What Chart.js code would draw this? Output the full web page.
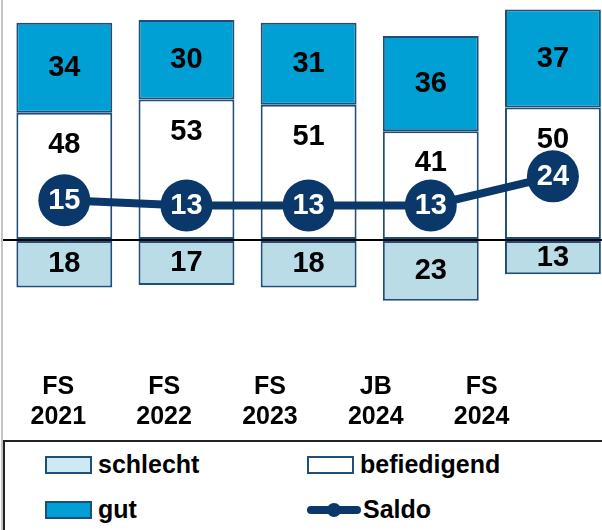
<!DOCTYPE html>
<html>
<head>
<meta charset="utf-8">
<script src="https://cdn.jsdelivr.net/npm/chart.js@4/dist/chart.umd.min.js"></script>
<style>
  html, body { margin: 0; padding: 0; background: #fff; overflow: hidden; }
  body { width: 602px; height: 530px; position: relative; font-family: "Liberation Sans", Arial, sans-serif; }
  #edge { position: absolute; left: 1px; top: 0; width: 2px; height: 530px; background: #c4c4c4; }
  #wrap { position: absolute; left: -2px; top: 0; width: 616px; height: 440px; }
  #legend {
    position: absolute; left: 3px; top: 440px; width: 640px; height: 100px;
    border: 2px solid #222; box-sizing: border-box;
    display: grid; grid-template-columns: 262px 300px; grid-auto-rows: 45px;
    padding-left: 40px; padding-top: 0;
  }
  .item { display: flex; align-items: center; font-weight: bold; font-size: 25px; color: #000; }
  .box { width: 43px; height: 14px; border: 2px solid #1f4e79; margin-right: 6px; }
  .ln { position: relative; width: 54px; height: 14px; margin-right: 2px; }
  .ln .bar { position: absolute; left: 0; top: 3px; width: 54px; height: 8px; border-radius: 4px; }
  .ln .dot { position: absolute; left: 20px; top: 0; width: 14px; height: 14px; border-radius: 7px; }
</style>
</head>
<body>
<div id="edge"></div>
<div id="wrap"><canvas id="myChart" width="616" height="440"></canvas></div>
<div id="legend"></div>
<script>
// categories (two-line labels)
const xLabels = [['FS', '2021'], ['FS', '2022'], ['FS', '2023'], ['JB', '2024'], ['FS', '2024']];
// series values
const schlecht = [18, 17, 18, 23, 13];
const befriedigend = [48, 53, 51, 41, 50];
const gut = [34, 30, 31, 36, 37];
const saldo = [15, 13, 13, 13, 24];

const navy = '#1f4e79';
const lineCol = '#0a386b';

const valueLabels = {
  id: 'valueLabels',
  afterDatasetsDraw(chart) {
    const ctx = chart.ctx;
    ctx.save();
    ctx.textAlign = 'center';
    ctx.textBaseline = 'middle';
    ctx.font = 'bold 29px "Liberation Sans", Arial';
    chart.data.datasets.forEach((ds, i) => {
      const meta = chart.getDatasetMeta(i);
      meta.data.forEach((el, j) => {
        let y;
        if (ds.type === 'line') {
          ctx.fillStyle = '#fff';
          y = el.y + 1;
        } else if (ds.key === 'bef') {
          ctx.fillStyle = '#000';
          y = el.y + 32;
        } else {
          ctx.fillStyle = '#000';
          y = (el.y + el.base) / 2;
        }
        ctx.fillText(String(ds.shown[j]), el.x, y);
      });
    });
    ctx.restore();
  }
};

const chart = new Chart(document.getElementById('myChart'), {
  data: {
    labels: xLabels.map(l => l.join(' ')),
    datasets: [
      {
        type: 'line', label: 'Saldo', data: saldo, shown: saldo,
        borderColor: lineCol, backgroundColor: lineCol, borderWidth: 8,
        pointRadius: 26, pointHoverRadius: 26, pointBackgroundColor: lineCol,
        pointBorderWidth: 0, tension: 0, stack: 'saldo', order: 0, clip: false
      },
      {
        type: 'bar', label: 'schlecht', key: 'sch', data: schlecht.map(v => -v), shown: schlecht,
        backgroundColor: '#badce6', borderColor: navy, borderWidth: 2, borderSkipped: false,
        stack: 'bars', order: 1, legendColor: '#cde9f3'
      },
      {
        type: 'bar', label: 'befiedigend', key: 'bef', data: befriedigend, shown: befriedigend,
        backgroundColor: '#ffffff', borderColor: navy, borderWidth: 2, borderSkipped: false,
        stack: 'bars', order: 1
      },
      {
        type: 'bar', label: 'gut', key: 'gut', data: gut, shown: gut,
        backgroundColor: '#009fd4', borderColor: navy, borderWidth: 2, borderSkipped: false,
        stack: 'bars', order: 1
      }
    ]
  },
  options: {
    responsive: false,
    animation: false,
    layout: { autoPadding: false, padding: { top: 0, bottom: 10, left: 0, right: 0 } },
    datasets: { bar: { categoryPercentage: 1, barPercentage: 0.785 } },
    plugins: { legend: { display: false }, tooltip: { enabled: false } },
    scales: {
      x: { display: false, stacked: true },
      x2: {
        type: 'linear', position: 'bottom', min: -0.52, max: 5.251,
        afterBuildTicks: s => { s.ticks = xLabels.map((l, i) => ({ value: i })); },
        afterFit: s => { s.height = 90; },
        ticks: {
          callback: v => xLabels[v],
          padding: 32, maxRotation: 0, autoSkip: false,
          color: '#000', font: { family: '"Liberation Sans", Arial', size: 25, weight: 'bold', lineHeight: 1.2 }
        },
        grid: { display: false, drawTicks: false }, border: { display: false }
      },
      y: {
        stacked: true, min: -37.8, max: 90.6,
        afterFit: s => { s.width = 0; },
        ticks: { display: false, stepSize: 10 },
        grid: {
          z: 1, drawTicks: false, lineWidth: 2,
          color: c => c.tick && c.tick.value === 0 ? '#000' : 'rgba(0,0,0,0)'
        },
        border: { display: false }
      }
    }
  },
  plugins: [valueLabels]
});

// legend built from the datasets, order: schlecht, befiedigend, gut, Saldo
const legend = document.getElementById('legend');
const order = [1, 2, 3, 0];
order.forEach(i => {
  const ds = chart.data.datasets[i];
  const item = document.createElement('div');
  item.className = 'item';
  let sw;
  if (ds.type === 'line') {
    sw = document.createElement('div');
    sw.className = 'ln';
    sw.innerHTML = '<div class="bar"></div><div class="dot"></div>';
    sw.querySelector('.bar').style.background = ds.borderColor;
    sw.querySelector('.dot').style.background = ds.borderColor;
  } else {
    sw = document.createElement('div');
    sw.className = 'box';
    sw.style.background = ds.legendColor || ds.backgroundColor;
  }
  item.appendChild(sw);
  item.appendChild(document.createTextNode(ds.label));
  legend.appendChild(item);
});
</script>
</body>
</html>
